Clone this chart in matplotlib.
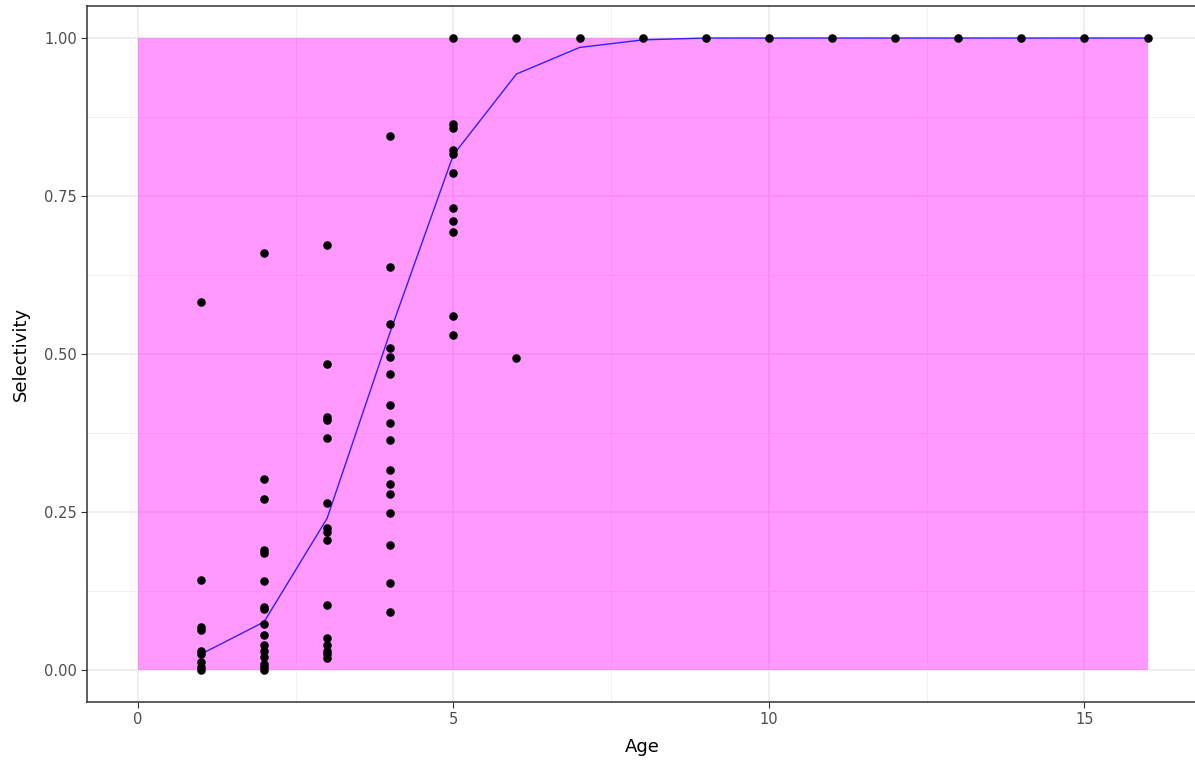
import matplotlib.pyplot as plt
import numpy as np

# observed selectivity by age
age_obs = [1] * 9 + [2] * 16 + [3] * 15 + [4] * 16 + [5] * 11 + [6] * 2 + list(range(7, 17))
sel_obs = [
    # age 1
    0.583, 0.143, 0.068, 0.063, 0.030, 0.025, 0.012, 0.005, 0.000,
    # age 2
    0.660, 0.303, 0.270, 0.190, 0.185, 0.141, 0.100, 0.097, 0.072,
    0.055, 0.040, 0.030, 0.020, 0.010, 0.004, 0.000,
    # age 3
    0.672, 0.484, 0.400, 0.395, 0.367, 0.265, 0.225, 0.218, 0.205,
    0.103, 0.050, 0.040, 0.030, 0.025, 0.019,
    # age 4
    0.845, 0.638, 0.547, 0.510, 0.495, 0.468, 0.420, 0.391, 0.364,
    0.316, 0.295, 0.279, 0.248, 0.198, 0.137, 0.092,
    # age 5
    1.000, 0.864, 0.858, 0.822, 0.817, 0.787, 0.731, 0.711, 0.693,
    0.560, 0.530,
    # age 6
    1.000, 0.494,
    # ages 7-16
    1.0, 1.0, 1.0, 1.0, 1.0, 1.0, 1.0, 1.0, 1.0, 1.0,
]

# fitted selectivity curve
age_fit = list(range(1, 17))
sel_fit = [0.025, 0.076, 0.240, 0.535, 0.815, 0.943, 0.985, 0.997,
           1.0, 1.0, 1.0, 1.0, 1.0, 1.0, 1.0, 1.0]

fig = plt.figure(figsize=(11.95, 7.67), dpi=100)
# right edge of the panel runs just past the image, like the cropped original
ax = fig.add_axes([87.3 / 1195, 1 - 701.6 / 767, 1110.7 / 1195, 695.2 / 767])

# grid like theme_bw
ax.set_xlim(-0.8, 16.8)
ax.set_ylim(-0.05, 1.05)
ax.set_xticks([0, 5, 10, 15])
ax.set_yticks([0, 0.25, 0.5, 0.75, 1.0])
ax.set_yticklabels(['0.00', '0.25', '0.50', '0.75', '1.00'])
ax.set_xticks([2.5, 7.5, 12.5], minor=True)
ax.set_yticks([0.125, 0.375, 0.625, 0.875], minor=True)
ax.grid(True, which='major', color='#ebebeb', linewidth=1.1, zorder=0)
ax.grid(True, which='minor', color='#f2f2f2', linewidth=0.7, zorder=0)
ax.set_axisbelow(True)
ax.tick_params(which='minor', length=0)
ax.tick_params(which='major', length=4, color='#333333', labelcolor='#4d4d4d', labelsize=10.5)

# shaded band
ax.fill_between([0, 16], [0, 0], [1, 1], color='magenta', alpha=0.4, linewidth=0, zorder=1)

ax.plot(age_fit, sel_fit, color='blue', linewidth=1.0, alpha=0.8, zorder=2)
ax.scatter(age_obs, sel_obs, s=38, color='black', linewidths=0, zorder=3)

for s in ax.spines.values():
    s.set_color('#333333')
    s.set_linewidth(1.1)

ax.set_xlabel('Age', fontsize=13, color='black', labelpad=8)
ax.set_ylabel('Selectivity', fontsize=13, color='black', labelpad=10)

fig.savefig('out.png', dpi=100)
